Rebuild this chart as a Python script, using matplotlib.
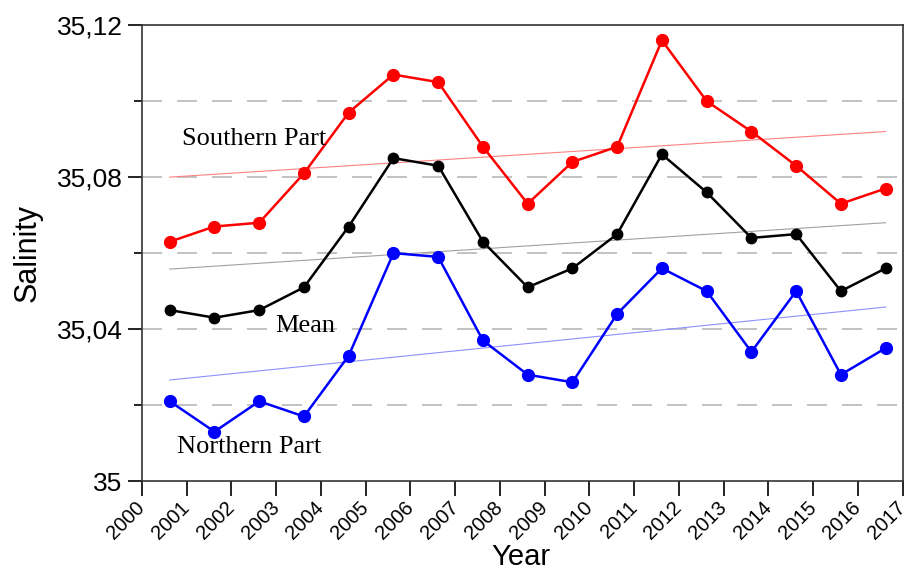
import numpy as np
import matplotlib.pyplot as plt
import matplotlib.ticker as mticker
import matplotlib.transforms as mtransforms

# data
years = [2000, 2001, 2002, 2003, 2004, 2005, 2006, 2007, 2008,
         2009, 2010, 2011, 2012, 2013, 2014, 2015, 2016]
south = [35.063, 35.067, 35.068, 35.081, 35.097, 35.107, 35.105, 35.088, 35.073,
         35.084, 35.088, 35.116, 35.100, 35.092, 35.083, 35.073, 35.077]
mean = [35.045, 35.043, 35.045, 35.051, 35.067, 35.085, 35.083, 35.063, 35.051,
        35.056, 35.065, 35.086, 35.076, 35.064, 35.065, 35.050, 35.056]
north = [35.021, 35.013, 35.021, 35.017, 35.033, 35.060, 35.059, 35.037, 35.028,
         35.026, 35.044, 35.056, 35.050, 35.034, 35.050, 35.028, 35.035]
# linear trend end values (first year, last year)
south_trend = [35.080, 35.092]
mean_trend = [35.0558, 35.068]
north_trend = [35.0266, 35.0458]

x = np.array(years) + 0.62
xt = [x[0], x[-1]]

fig = plt.figure(figsize=(9.22, 5.72), dpi=100)
ax = fig.add_axes([0.154, 0.159, 0.825, 0.797])

for yv in [35.02, 35.04, 35.06, 35.08, 35.10]:
    ax.axhline(yv, color='#b8b8b8', lw=1.2, dashes=(12, 9), zorder=0)

ax.plot(xt, south_trend, color='#ff8080', lw=0.8)
ax.plot(xt, mean_trend, color='#a0a0a0', lw=0.8)
ax.plot(xt, north_trend, color='#9090ff', lw=0.8)

ax.plot(x, south, color='#ff0000', lw=1.8, marker='o', ms=8.5)
ax.plot(x, mean, color='black', lw=1.8, marker='o', ms=7.5)
ax.plot(x, north, color='#0000ff', lw=1.8, marker='o', ms=8.5)

serif = 'Liberation Serif'
ax.text(2000.89, 35.0884, 'Southern Part', fontsize=19, family=serif)
ax.text(2002.97, 35.0392, 'Mean', fontsize=19, family=serif)
ax.text(2000.78, 35.0074, 'Northern Part', fontsize=19, family=serif)

ax.set_xlim(2000, 2017)
ax.set_ylim(35.0, 35.12)
ax.set_xticks(range(2000, 2018))
ax.set_xticklabels([str(v) for v in range(2000, 2018)], rotation=45,
                   ha='right', va='center', rotation_mode='anchor',
                   fontsize=14.5, family='Liberation Sans')
shift = mtransforms.ScaledTranslation(15 / 100, 0, fig.dpi_scale_trans)
for lab in ax.get_xticklabels():
    lab.set_transform(lab.get_transform() + shift)
ax.set_yticks([35.0, 35.04, 35.08, 35.12])
ax.set_yticks([35.02, 35.06, 35.10], minor=True)
ax.yaxis.set_major_formatter(mticker.FuncFormatter(
    lambda v, p: '35' if abs(v - 35) < 1e-9 else ('%.2f' % v).replace('.', ',')))
for lab in ax.get_yticklabels():
    lab.set_family('Liberation Sans')
ax.tick_params(axis='y', which='major', length=10, width=1.2, labelsize=19, pad=4)
ax.tick_params(axis='y', which='minor', length=6, width=1.2)
ax.tick_params(axis='x', length=11, width=1.2, pad=6)
for s in ax.spines.values():
    s.set_linewidth(1.2)
    s.set_color('#333333')

ax.set_xlabel('Year', fontsize=21, family='Liberation Sans')
ax.xaxis.set_label_coords(0.498, -0.135)
ax.set_ylabel('Salinity', fontsize=22, family='Liberation Sans', labelpad=10)

fig.savefig('out.png', dpi=100)
